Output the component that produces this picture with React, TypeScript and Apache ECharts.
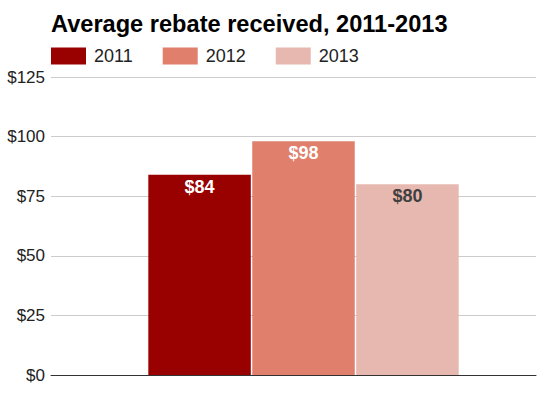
import React, { useEffect, useRef } from "react";
import * as echarts from "echarts";

const categories = ["Average rebate"];
const years = ["2011", "2012", "2013"];
const values = [84, 98, 80];
const yTicks = { min: 0, max: 125, interval: 25 };

const barColors = ["#990000", "#df7f6c", "#e7b8b0"];
const labelColors = ["#ffffff", "#ffffff", "#404040"];
const FONT = "'Liberation Sans', Arial, sans-serif";

export default function App() {
  const ref = useRef<HTMLDivElement>(null);
  useEffect(() => {
    document.body.style.margin = "0";
    const chart = echarts.init(ref.current!, null, { renderer: "svg" });
    const option = {
      animation: false,
      textStyle: { fontFamily: FONT },
      title: {
        text: "Average rebate received, 2011-2013",
        left: 51,
        top: 12,
        padding: 0,
        textStyle: { fontSize: 23.6, fontWeight: "bold", color: "#000", fontFamily: FONT },
      },
      legend: {
        data: years,
        left: 51,
        top: 47,
        padding: 0,
        itemWidth: 35,
        itemHeight: 17,
        itemGap: 30,
        icon: "rect",
        textStyle: { fontSize: 18, color: "#222", fontFamily: FONT, padding: [0, 0, 0, 3] },
      },
      grid: [
        { left: 51, right: 4, top: 77, bottom: 23 },
        { left: 71, right: 4, top: 77, bottom: 23 },
      ],
      xAxis: [
        {
          type: "category",
          gridIndex: 0,
          data: categories,
          axisLine: { lineStyle: { color: "#333", width: 1 } },
          axisTick: { show: false },
          axisLabel: { show: false },
        },
        {
          type: "category",
          gridIndex: 1,
          data: categories,
          show: false,
        },
      ],
      yAxis: [
        {
          type: "value",
          gridIndex: 0,
          min: yTicks.min,
          max: yTicks.max,
          interval: yTicks.interval,
          axisLine: { show: false },
          axisTick: { show: false },
          splitLine: { lineStyle: { color: "#cccccc", width: 1 } },
          axisLabel: {
            formatter: (v: number) => "$" + v,
            fontSize: 17,
            color: "#222",
            margin: 6,
            fontFamily: FONT,
          },
        },
        {
          type: "value",
          gridIndex: 1,
          min: yTicks.min,
          max: yTicks.max,
          interval: yTicks.interval,
          show: false,
          splitLine: { show: false },
        },
      ],
      series: years.map((y, i) => ({
        name: y,
        type: "bar",
        xAxisIndex: 1,
        yAxisIndex: 1,
        barWidth: 102.5,
        barGap: "1.4%",
        data: [values[i]],
        itemStyle: { color: barColors[i] },
        label: {
          show: true,
          position: "insideTop",
          distance: 3,
          formatter: (p: any) => "$" + p.value,
          fontSize: 18,
          fontWeight: "bold",
          color: labelColors[i],
          fontFamily: FONT,
        },
      })),
    };
    chart.setOption(option as any);
    return () => chart.dispose();
  }, []);
  return <div ref={ref} style={{ width: 540, height: 398 }} />;
}
